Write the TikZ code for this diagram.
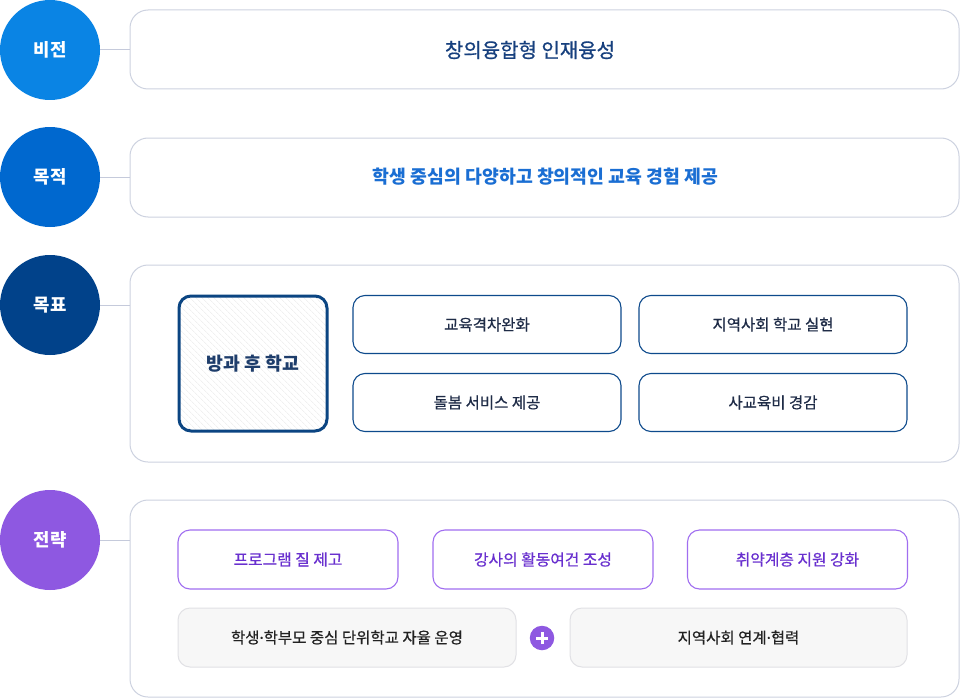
\documentclass[tikz,border=0pt]{standalone}
\usepackage{fontspec}
\setmainfont{Noto Sans CJK KR}
\newfontfamily\medfont[FakeBold=0.6]{Noto Sans CJK KR}
\newfontfamily\dotfont[FakeBold=0.6]{Noto Sans}
\newcommand{\mdot}{{\dotfont ·}}
\usetikzlibrary{patterns.meta}
\definecolor{cVision}{HTML}{0A84E4}
\definecolor{cGoal}{HTML}{0068CF}
\definecolor{cTarget}{HTML}{01428A}
\definecolor{cStrat}{HTML}{8E58E1}
\definecolor{cLine}{HTML}{C5CADB}
\definecolor{cOuter}{HTML}{CDD2E0}
\definecolor{cVisText}{HTML}{17407E}
\definecolor{cGoalText}{HTML}{1A6ED3}
\definecolor{cTgtText}{HTML}{1F2C47}
\definecolor{cTgtBorder}{HTML}{0E4A8C}
\definecolor{cMainBorder}{HTML}{0B4582}
\definecolor{cMainText}{HTML}{1E3D6B}
\definecolor{cStBorder}{HTML}{A06EF0}
\definecolor{cStText}{HTML}{6930CF}
\definecolor{cGrayFill}{HTML}{F7F7F7}
\definecolor{cGrayBorder}{HTML}{E1E1E5}
\definecolor{cDark}{HTML}{222222}
\definecolor{cHatch}{HTML}{E9E9E9}
\begin{document}
\begin{tikzpicture}[x=1pt,y=-1pt,
  circ/.style={circle,minimum size=100pt,inner sep=0pt,outer sep=0pt,text=white,font=\fontsize{17.8}{20}\selectfont\bfseries},
  outerbox/.style={draw=cOuter,line width=1pt,fill=white,rounded corners=18pt,inner sep=0pt,outer sep=0pt},
  conn/.style={draw=cLine,line width=1pt},
  tgtbox/.style={draw=cTgtBorder,line width=1.1pt,fill=white,rounded corners=12pt,inner sep=0pt,outer sep=0pt,minimum width=268pt,minimum height=58pt,text=cTgtText,font=\fontsize{15.5}{18}\medfont},
  stbox/.style={draw=cStBorder,line width=1.1pt,fill=white,rounded corners=12pt,inner sep=0pt,outer sep=0pt,minimum width=220pt,minimum height=59pt,text=cStText,font=\fontsize{15.8}{18}\medfont},
  graybox/.style={draw=cGrayBorder,line width=1pt,fill=cGrayFill,rounded corners=12pt,inner sep=0pt,outer sep=0pt,minimum height=59pt,text=cDark,font=\fontsize{15.5}{18}\medfont}
]
\useasboundingbox[fill=white] (0,0) rectangle (960,698);

% left circles
\node[circ,fill=cVision] (c1) at (50,50) {비전};
\node[circ,fill=cGoal] (c2) at (50,177) {목적};
\node[circ,fill=cTarget] (c3) at (50,305) {목표};
\node[circ,fill=cStrat] (c4) at (50,540) {전략};

% outer boxes
\node[outerbox,minimum width=829pt,minimum height=79pt] (b1) at (544.5,49.5) {};
\node[text=cVisText,font=\fontsize{20}{23}\medfont] (t1) at (530,50) {창의융합형 인재융성};
\node[outerbox,minimum width=829pt,minimum height=79pt] (b2) at (544.5,177.5) {};
\node[text=cGoalText,font=\fontsize{18.3}{21}\selectfont\bfseries] (t2) at (545.5,177) {학생 중심의 다양하고 창의적인 교육 경험 제공};
\node[outerbox,minimum width=829pt,minimum height=197pt] (b3) at (544.5,363.5) {};
\node[outerbox,minimum width=829pt,minimum height=197pt] (b4) at (544.5,598.5) {};

% connectors
\draw[conn] (c1.east) -- (c1.east -| b1.west);
\draw[conn] (c2.east) -- (c2.east -| b2.west);
\draw[conn] (c3.east) -- (c3.east -| b3.west);
\draw[conn] (c4.east) -- (c4.east -| b4.west);

% target section
\node[rounded corners=12pt,minimum width=148pt,minimum height=135pt,inner sep=0pt,outer sep=0pt,fill=white] (m) at (253,363.5) {};
\fill[pattern={Lines[angle=-45,distance=4pt,line width=0.6pt]},pattern color=cHatch,rounded corners=12pt] (m.south west) rectangle (m.north east);
\draw[draw=cMainBorder,line width=3pt,rounded corners=12pt] (m.south west) rectangle (m.north east);
\node[text=cMainText,font=\fontsize{18.3}{21}\selectfont\bfseries] (mt) at (m.center) {방과 후 학교};

\node[tgtbox] (g1) at (487,324.5) {교육격차완화};
\node[tgtbox] (g2) at (773,324.5) {지역사회 학교 실현};
\node[tgtbox] (g3) at (487,402.5) {돌봄 서비스 제공};
\node[tgtbox] (g4) at (773,402.5) {사교육비 경감};

% strategy section
\node[stbox] (s1) at (288,559.5) {프로그램 질 제고};
\node[stbox] (s2) at (543,559.5) {강사의 활동여건 조성};
\node[stbox] (s3) at (797.5,559.5) {취약계층 지원 강화};
\node[graybox,minimum width=338pt] (r1) at (347,637.5) {학생\mdot 학부모 중심 단위학교 자율 운영};
\node[graybox,minimum width=337pt] (r2) at (738.5,637.5) {지역사회 연계\mdot 협력};
\node[circle,fill=cStrat,minimum size=24.5pt,inner sep=0pt] (p) at (542,638) {};
\draw[white,line width=3pt] ([xshift=-6pt]p.center) -- ([xshift=6pt]p.center);
\draw[white,line width=3pt] ([yshift=-6pt]p.center) -- ([yshift=6pt]p.center);
\end{tikzpicture}
\end{document}
